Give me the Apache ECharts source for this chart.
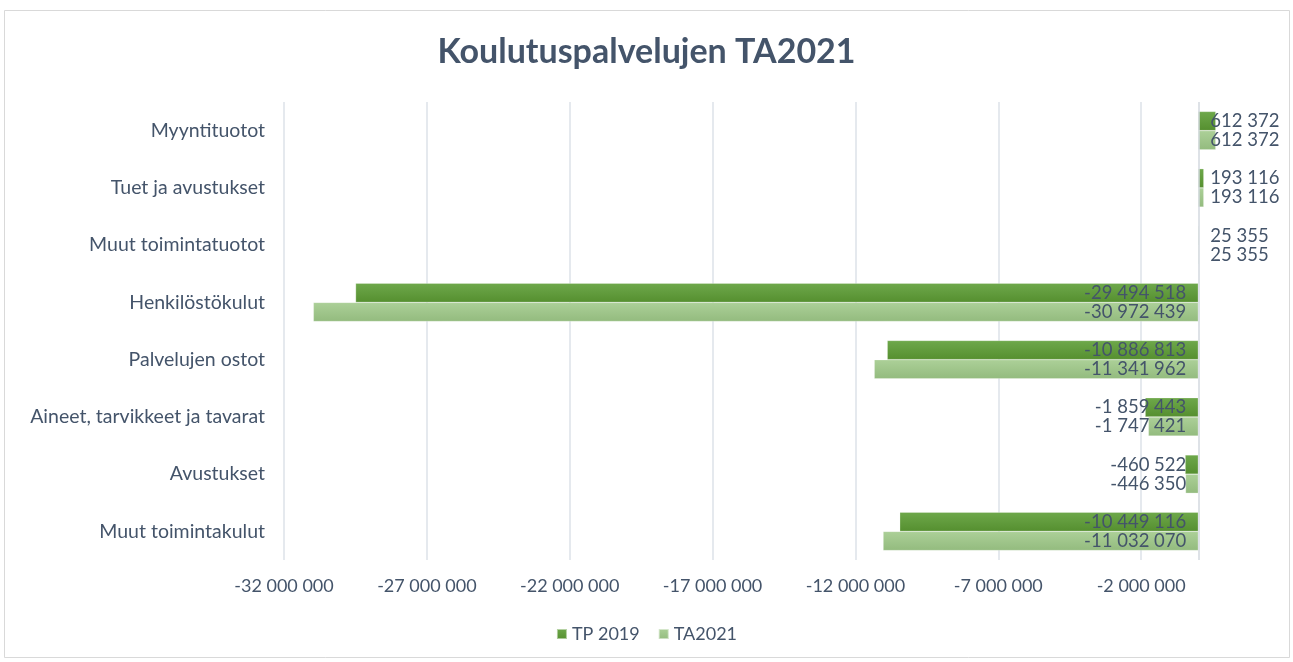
<!DOCTYPE html>
<html>
<head>
<meta charset="utf-8">
<title>Koulutuspalvelujen TA2021</title>
<script src="https://cdn.jsdelivr.net/npm/echarts@6/dist/echarts.min.js"></script>
<style>
  html, body { margin: 0; padding: 0; background: #fff; }
  #main { width: 1293px; height: 662px; }
</style>
</head>
<body>
<div id="main"></div>
<script>
// kategoriat ylhäältä alas
var categories = [
  'Myyntituotot',
  'Tuet ja avustukset',
  'Muut toimintatuotot',
  'Henkilöstökulut',
  'Palvelujen ostot',
  'Aineet, tarvikkeet ja tavarat',
  'Avustukset',
  'Muut toimintakulut'
];
var tp2019 = [612372, 193116, 25355, -29494518, -10886813, -1859443, -460522, -10449116];
var ta2021 = [612372, 193116, 25355, -30972439, -11341962, -1747421, -446350, -11032070];

var textColor = '#44546a';
var font = 'Lato, "Open Sans", sans-serif';

// tuhaterotin välilyönnillä
function fmt(v) {
  var s = String(Math.abs(Math.round(v))).replace(/\B(?=(\d{3})+(?!\d))/g, ' ');
  return (v < 0 ? '-' : '') + s;
}

// label kiinni nollakohtaan (inside base)
function toItems(arr) {
  return arr.map(function (v) {
    return { value: v, label: { position: v < 0 ? 'insideRight' : 'insideLeft' } };
  });
}

var darkGreen = new echarts.graphic.LinearGradient(0, 0, 0, 1, [
  { offset: 0, color: '#6ea84b' },
  { offset: 1, color: '#558f2f' }
]);
var lightGreen = new echarts.graphic.LinearGradient(0, 0, 0, 1, [
  { offset: 0, color: '#acd098' },
  { offset: 1, color: '#93bb7e' }
]);

var myChart = echarts.init(document.getElementById('main'));
var options = {
  backgroundColor: '#fff',
  textStyle: { fontFamily: font },
  graphic: [{
    type: 'rect',
    silent: true,
    shape: { x: 4.5, y: 10.5, width: 1285, height: 647 },
    style: { fill: 'none', stroke: '#d9d9d9', lineWidth: 1 }
  }],
  title: {
    text: 'Koulutuspalvelujen TA2021',
    left: 'center',
    top: 30,
    textStyle: { fontFamily: font, fontSize: 34, fontWeight: 'bold', color: textColor }
  },
  legend: {
    bottom: 14,
    left: 'center',
    icon: 'rect',
    itemWidth: 10,
    itemHeight: 10,
    itemGap: 18,
    textStyle: { fontFamily: font, fontSize: 18, color: textColor },
    data: ['TP 2019', 'TA2021']
  },
  grid: { left: 284, right: 9, top: 102, bottom: 102 },
  xAxis: {
    type: 'value',
    min: -32000000,
    max: 3000000,
    interval: 5000000,
    axisLine: { show: false },
    axisTick: { show: false },
    splitLine: { show: true, showMaxLine: false, lineStyle: { color: '#dde2e9', width: 1.5 } },
    axisLabel: {
      showMaxLabel: false,
      margin: 17,
      fontFamily: font,
      fontSize: 18,
      color: textColor,
      formatter: fmt
    }
  },
  yAxis: {
    type: 'category',
    inverse: true,
    data: categories,
    axisLine: { show: false, onZero: false },
    axisTick: { show: false },
    axisLabel: { margin: 19, fontFamily: font, fontSize: 19.5, color: textColor }
  },
  series: [
    {
      name: 'TP 2019',
      type: 'bar',
      barGap: '0%',
      barCategoryGap: '33%',
      color: darkGreen,
      itemStyle: { borderColor: 'rgba(255,255,255,0.5)', borderWidth: 0.5 },
      label: {
        show: true,
        distance: 12,
        fontFamily: font,
        fontSize: 18.5,
        color: textColor,
        formatter: function (p) { return fmt(p.value); }
      },
      data: toItems(tp2019),
      markLine: {
        silent: true,
        symbol: 'none',
        label: { show: false },
        lineStyle: { color: '#d3d8df', type: 'solid', width: 1.5 },
        data: [{ xAxis: 0 }]
      }
    },
    {
      name: 'TA2021',
      type: 'bar',
      barGap: '0%',
      barCategoryGap: '33%',
      color: lightGreen,
      itemStyle: { borderColor: 'rgba(255,255,255,0.5)', borderWidth: 0.5 },
      label: {
        show: true,
        distance: 12,
        fontFamily: font,
        fontSize: 18.5,
        color: textColor,
        formatter: function (p) { return fmt(p.value); }
      },
      data: toItems(ta2021)
    }
  ]
};
myChart.setOption(options);
</script>
</body>
</html>
